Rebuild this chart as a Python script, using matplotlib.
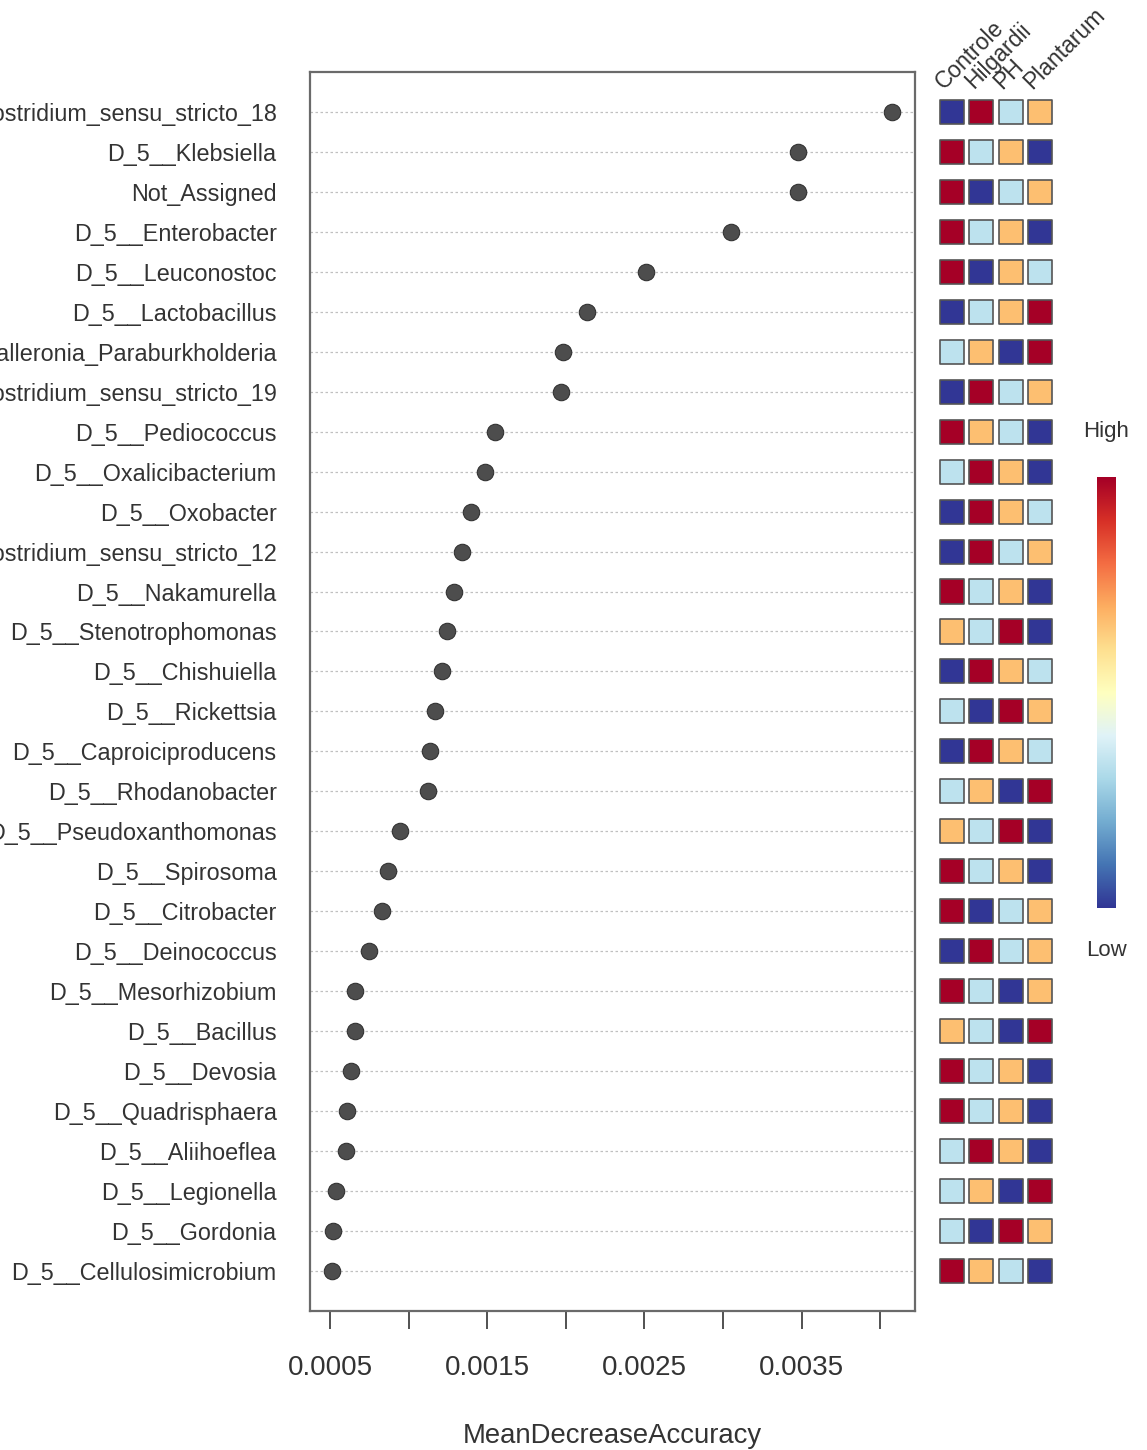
import matplotlib
matplotlib.use('Agg')
import matplotlib.pyplot as plt
import numpy as np

plt.rcParams['font.family'] = ['Liberation Sans', 'DejaVu Sans']

# features, top to bottom
features = ['D_5__Clostridium_sensu_stricto_18', 'D_5__Klebsiella', 'Not_Assigned',
            'D_5__Enterobacter', 'D_5__Leuconostoc', 'D_5__Lactobacillus',
            'D_5__Burkholderia_Caballeronia_Paraburkholderia', 'D_5__Clostridium_sensu_stricto_19',
            'D_5__Pediococcus', 'D_5__Oxalicibacterium', 'D_5__Oxobacter',
            'D_5__Clostridium_sensu_stricto_12', 'D_5__Nakamurella', 'D_5__Stenotrophomonas',
            'D_5__Chishuiella', 'D_5__Rickettsia', 'D_5__Caproiciproducens',
            'D_5__Rhodanobacter', 'D_5__Pseudoxanthomonas', 'D_5__Spirosoma',
            'D_5__Citrobacter', 'D_5__Deinococcus', 'D_5__Mesorhizobium', 'D_5__Bacillus',
            'D_5__Devosia', 'D_5__Quadrisphaera', 'D_5__Aliihoeflea', 'D_5__Legionella',
            'D_5__Gordonia', 'D_5__Cellulosimicrobium']

mda = [0.004075, 0.003477, 0.003477, 0.003051, 0.00251, 0.002135, 0.001982, 0.001969,
       0.00155, 0.001486, 0.001397, 0.00134, 0.001289, 0.001244, 0.001212, 0.001168,
       0.001136, 0.001123, 0.000945, 0.000869, 0.000831, 0.000748, 0.000659, 0.000659,
       0.000634, 0.000608, 0.000602, 0.000538, 0.000519, 0.000513]

groups = ['Controle', 'Hilgardii', 'PH', 'Plantarum']

# relative abundance rank per group (1 = low ... 4 = high)
ranks = [
    [1, 4, 2, 3], [4, 2, 3, 1], [4, 1, 2, 3], [4, 2, 3, 1], [4, 1, 3, 2],
    [1, 2, 3, 4], [2, 3, 1, 4], [1, 4, 2, 3], [4, 3, 2, 1], [2, 4, 3, 1],
    [1, 4, 3, 2], [1, 4, 2, 3], [4, 2, 3, 1], [3, 2, 4, 1], [1, 4, 3, 2],
    [2, 1, 4, 3], [1, 4, 3, 2], [2, 3, 1, 4], [3, 2, 4, 1], [4, 2, 3, 1],
    [4, 1, 2, 3], [1, 4, 2, 3], [4, 2, 1, 3], [3, 2, 1, 4], [4, 2, 3, 1],
    [4, 2, 3, 1], [2, 4, 3, 1], [2, 3, 1, 4], [2, 1, 4, 3], [4, 3, 2, 1],
]

xticks = [0.0005, 0.001, 0.0015, 0.002, 0.0025, 0.003, 0.0035, 0.004]
xticklabels = ['0.0005', '', '0.0015', '', '0.0025', '', '0.0035', '']

n = len(features)
ypos = np.arange(n, 0, -1)
txt = '#333333'

fig = plt.figure(figsize=(11.47, 14.5), dpi=100)
ax = fig.add_axes([0.2703, 0.0959, 0.5275, 0.8545])

for y in ypos:
    ax.axhline(y, color='#c0c0c0', linestyle=(0, (2, 2)), linewidth=0.9, zorder=1)
ax.scatter(mda, ypos, s=140, color='#4d4d4d', edgecolor='#333333', linewidth=0.8, zorder=3)

ax.set_xlim(0.000373, 0.004221)
ax.set_ylim(0, n + 1)
ax.set_yticks(ypos)
ax.set_yticklabels(features, fontsize=16.8, color=txt)
ax.tick_params(axis='y', length=0, pad=24)
ax.set_xticks(xticks)
ax.set_xticklabels(xticklabels, fontsize=20, color=txt)
ax.tick_params(axis='x', length=13, width=1.2, color='#333333', pad=19)
ax.set_xlabel('MeanDecreaseAccuracy', fontsize=19.8, color=txt, labelpad=30)
for s in ax.spines.values():
    s.set_color('#6a6a6a')
    s.set_linewidth(1.6)

# heatmap of group ranks
hm = fig.add_axes([0.8172, 0.0959, 0.1025, 0.8545])
cmap = plt.get_cmap('RdYlBu_r')
cx, cy, cv = [], [], []
for i, row in enumerate(ranks):
    for j, v in enumerate(row):
        cx.append(j + 1)
        cy.append(ypos[i])
        cv.append(v)
hm.scatter(cx, cy, c=cv, cmap=cmap, vmin=1, vmax=4, marker='s', s=300,
           edgecolor='#555555', linewidth=1.2)
hm.set_xlim(0.5, 4.5)
hm.set_ylim(0, n + 1)
hm.axis('off')
for j, g in enumerate(groups):
    hm.text(j + 1 - 0.28, n + 0.55, g, rotation=45, rotation_mode='anchor',
            ha='left', va='baseline', fontsize=16.5, color=txt)

# colour key
cb = fig.add_axes([0.9564, 0.3738, 0.0157, 0.2972])
grad = np.linspace(0, 1, 256).reshape(-1, 1)
cb.imshow(grad, cmap=cmap, aspect='auto', origin='lower')
cb.axis('off')
fig.text(0.9643, 1 - 432 / 1450, 'High', ha='center', va='center', fontsize=16, color=txt)
fig.text(0.9643, 1 - 950 / 1450, 'Low', ha='center', va='center', fontsize=16, color=txt)

fig.savefig('out.png', dpi=100)
